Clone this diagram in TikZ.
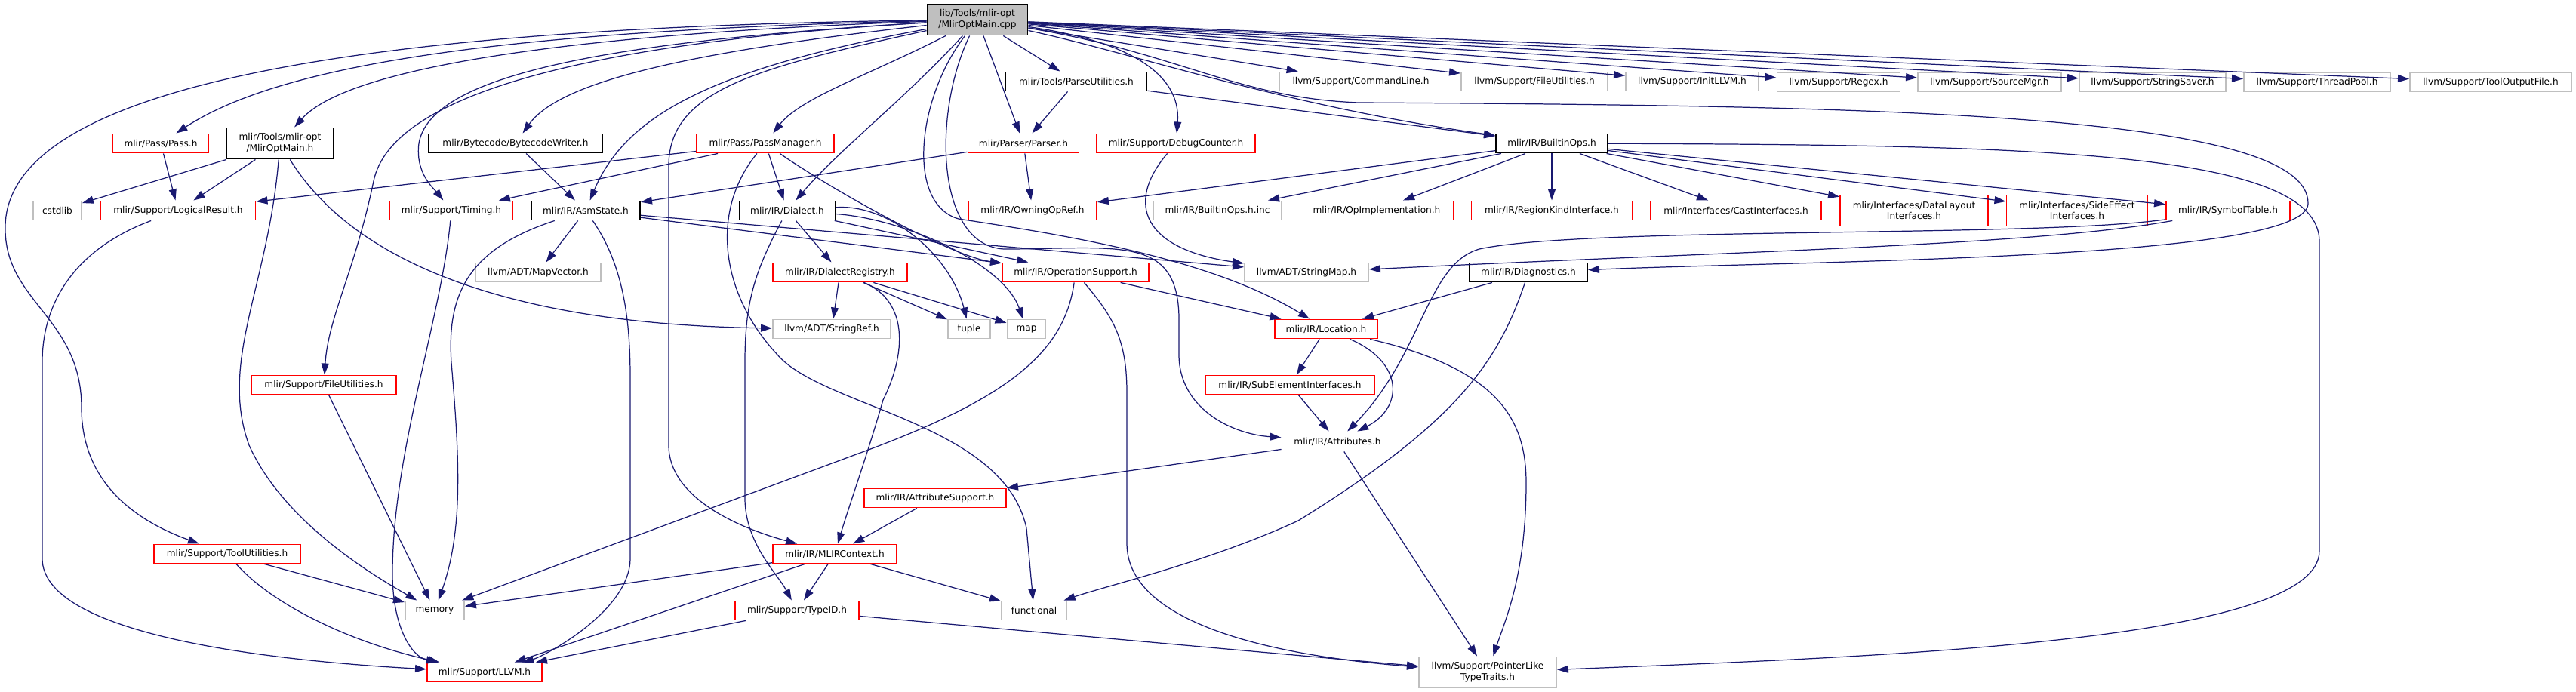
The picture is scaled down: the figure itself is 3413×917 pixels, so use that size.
\documentclass[tikz,border=0pt]{standalone}
\usepackage{fontspec}
\setmainfont{DejaVu Sans}
\usetikzlibrary{arrows.meta}
\definecolor{edgeblue}{RGB}{25,25,112}
\definecolor{extgray}{RGB}{191,191,191}

\begin{document}
\begin{tikzpicture}[x=0.1mm, y=-0.1mm,
    hdr/.style={draw, line width=0.55pt, rectangle, fill=white, inner xsep=0.4mm, inner ysep=0pt,
        minimum height=2.5mm, align=center, font=\fontsize{3.45pt}{4.2pt}\selectfont},
    hdr red/.style={hdr, draw=red},
    hdr ext/.style={hdr, draw=extgray},
    hdr doc/.style={hdr, draw=black},
    twoline/.style={minimum height=4.1mm},
    incl/.style={draw=edgeblue, line width=0.35pt, -{Triangle[length=1.5mm, width=1mm]}}]
    \useasboundingbox (0,0) rectangle (3413,917);

    % file itself and the llvm support row
    \node[hdr doc, fill=extgray, twoline, minimum width=13.3mm] (main-cpp) at (1295,26) {lib/Tools/mlir-opt\\/MlirOptMain.cpp};
    \node[hdr doc, minimum width=18.7mm] (parse-utils-h) at (1426,108) {mlir/Tools/ParseUtilities.h};
    \node[hdr ext, minimum width=21.5mm] (command-line-h) at (1803,108) {llvm/Support/CommandLine.h};
    \node[hdr ext, minimum width=19.4mm] (llvm-file-utils-h) at (2033,108) {llvm/Support/FileUtilities.h};
    \node[hdr ext, minimum width=17.6mm] (init-llvm-h) at (2242,108) {llvm/Support/InitLLVM.h};
    \node[hdr ext, minimum width=16.3mm] (regex-h) at (2436,109) {llvm/Support/Regex.h};
    \node[hdr ext, minimum width=19mm] (source-mgr-h) at (2636,109) {llvm/Support/SourceMgr.h};
    \node[hdr ext, minimum width=19.4mm] (string-saver-h) at (2852,109) {llvm/Support/StringSaver.h};
    \node[hdr ext, minimum width=19.4mm] (thread-pool-h) at (3070,109) {llvm/Support/ThreadPool.h};
    \node[hdr ext, minimum width=21.4mm] (tool-output-file-h) at (3300,109) {llvm/Support/ToolOutputFile.h};

    \node[hdr red, minimum width=12.7mm] (pass-h) at (213,190) {mlir/Pass/Pass.h};
    \node[hdr doc, twoline, minimum width=14.2mm] (opt-main-h) at (371,190) {mlir/Tools/mlir-opt\\/MlirOptMain.h};
    \node[hdr doc, minimum width=23mm] (bytecode-writer-h) at (683,190) {mlir/Bytecode/BytecodeWriter.h};
    \node[hdr red, minimum width=18.2mm] (pass-manager-h) at (1014,190) {mlir/Pass/PassManager.h};
    \node[hdr red, minimum width=14.7mm] (parser-h) at (1356,190) {mlir/Parser/Parser.h};
    \node[hdr red, minimum width=21mm] (debug-counter-h) at (1558,190) {mlir/Support/DebugCounter.h};
    \node[hdr doc, minimum width=14.8mm] (builtin-ops-h) at (2056,190) {mlir/IR/BuiltinOps.h};

    \node[hdr ext, minimum width=6.4mm] (cstdlib) at (76,279) {cstdlib};
    \node[hdr red, minimum width=20.5mm] (logical-result-h) at (236,279) {mlir/Support/LogicalResult.h};
    \node[hdr red, minimum width=16.3mm] (timing-h) at (598,279) {mlir/Support/Timing.h};
    \node[hdr doc, minimum width=14.4mm] (asm-state-h) at (776,279) {mlir/IR/AsmState.h};
    \node[hdr doc, minimum width=12.7mm] (dialect-h) at (1043,279) {mlir/IR/Dialect.h};
    \node[hdr red, minimum width=17mm] (owning-op-ref-h) at (1368,279) {mlir/IR/OwningOpRef.h};
    \node[hdr ext, minimum width=17mm] (builtin-ops-inc) at (1613,279) {mlir/IR/BuiltinOps.h.inc};
    \node[hdr red, minimum width=20.3mm] (op-impl-h) at (1824,279) {mlir/IR/OpImplementation.h};
    \node[hdr red, minimum width=21.3mm] (region-kind-h) at (2056,279) {mlir/IR/RegionKindInterface.h};
    \node[hdr red, minimum width=22.6mm] (cast-ifaces-h) at (2300,279) {mlir/Interfaces/CastInterfaces.h};
    \node[hdr red, twoline, minimum width=19.6mm] (data-layout-h) at (2536,279) {mlir/Interfaces/DataLayout\\Interfaces.h};
    \node[hdr red, twoline, minimum width=18.7mm] (side-effect-h) at (2752,279) {mlir/Interfaces/SideEffect\\Interfaces.h};
    \node[hdr red, minimum width=16.4mm] (symbol-table-h) at (2952,279) {mlir/IR/SymbolTable.h};

    \node[hdr ext, minimum width=16.6mm] (map-vector-h) at (713,361) {llvm/ADT/MapVector.h};
    \node[hdr red, minimum width=17.8mm] (dialect-registry-h) at (1113,361) {mlir/IR/DialectRegistry.h};
    \node[hdr red, minimum width=19.4mm] (op-support-h) at (1425,361) {mlir/IR/OperationSupport.h};
    \node[hdr ext, minimum width=16.4mm] (string-map-h) at (1731,361) {llvm/ADT/StringMap.h};
    \node[hdr doc, minimum width=15.6mm] (diagnostics-h) at (2025,361) {mlir/IR/Diagnostics.h};

    \node[hdr ext, minimum width=15.6mm] (string-ref-h) at (1102,436) {llvm/ADT/StringRef.h};
    \node[hdr ext, minimum width=5.6mm] (tuple) at (1284,436) {tuple};
    \node[hdr ext, minimum width=5.1mm] (map) at (1360,436) {map};
    \node[hdr red, minimum width=13.6mm] (location-h) at (1757,436) {mlir/IR/Location.h};

    \node[hdr red, minimum width=19.2mm] (file-utils-h) at (429,510) {mlir/Support/FileUtilities.h};
    \node[hdr red, minimum width=22.4mm] (sub-element-h) at (1709,510) {mlir/IR/SubElementInterfaces.h};
    \node[hdr doc, minimum width=14.7mm] (attributes-h) at (1772,585) {mlir/IR/Attributes.h};
    \node[hdr red, minimum width=18.8mm] (attr-support-h) at (1239,660) {mlir/IR/AttributeSupport.h};
    \node[hdr red, minimum width=19.4mm] (tool-utils-h) at (301,734) {mlir/Support/ToolUtilities.h};
    \node[hdr red, minimum width=16.4mm] (mlir-context-h) at (1106,734) {mlir/IR/MLIRContext.h};
    \node[hdr ext, minimum width=7.8mm] (memory) at (576,809) {memory};
    \node[hdr red, minimum width=16.4mm] (type-id-h) at (1056,809) {mlir/Support/TypeID.h};
    \node[hdr ext, minimum width=8.6mm] (functional) at (1370,809) {functional};
    \node[hdr red, minimum width=15.2mm] (llvm-h) at (642,891) {mlir/Support/LLVM.h};
    \node[hdr ext, twoline, minimum width=18.2mm] (pointer-like-h) at (1971,891) {llvm/Support/PointerLike\\TypeTraits.h};

    \begin{scope}[incl]
        % includes of the file itself
        \draw (main-cpp) .. controls (600,35) and (10,90) .. (7,300) .. controls (5,400) and (108,420) .. (108,540) .. controls (108,640) and (180,690) .. (tool-utils-h);
        \draw (main-cpp) .. controls (700,40) and (380,80) .. (pass-h);
        \draw (main-cpp) .. controls (750,45) and (460,90) .. (opt-main-h);
        \draw (main-cpp) .. controls (800,55) and (520,120) .. (495,240) .. controls (470,360) and (435,420) .. (file-utils-h);
        \draw (main-cpp) .. controls (800,55) and (570,100) .. (555,190) .. controls (550,230) and (575,250) .. (timing-h);
        \draw (main-cpp) .. controls (900,70) and (740,110) .. (bytecode-writer-h);
        \draw (main-cpp) .. controls (950,90) and (830,150) .. (asm-state-h);
        \draw (main-cpp) .. controls (1000,90) and (886,120) .. (886,220) -- (886,590) .. controls (886,660) and (980,700) .. (mlir-context-h);
        \draw (main-cpp) .. controls (1150,100) and (1060,130) .. (pass-manager-h);
        \draw (main-cpp) .. controls (1200,130) and (1110,200) .. (dialect-h);
        \draw (main-cpp) -- (parser-h);
        \draw (main-cpp) -- (parse-utils-h);
        \draw (main-cpp) .. controls (1500,55) and (1565,100) .. (debug-counter-h);
        \draw (main-cpp) .. controls (1500,70) and (1700,140) .. (builtin-ops-h);
        \draw (main-cpp) .. controls (1215,130) and (1200,270) .. (1270,290) .. controls (1400,310) and (1600,340) .. (location-h);
        \draw (main-cpp) .. controls (1235,150) and (1240,325) .. (1330,330) .. controls (1480,330) and (1560,310) .. (1562,420) -- (1562,470) .. controls (1562,540) and (1630,575) .. (attributes-h);
        \draw (main-cpp) .. controls (1560,70) and (1640,130) .. (1800,136) .. controls (2500,140) and (3060,150) .. (3058,270) .. controls (3056,345) and (2400,345) .. (diagnostics-h);
        \draw (main-cpp) -- (command-line-h);
        \draw (main-cpp) -- (llvm-file-utils-h);
        \draw (main-cpp) -- (init-llvm-h);
        \draw (main-cpp) -- (regex-h);
        \draw (main-cpp) -- (source-mgr-h);
        \draw (main-cpp) -- (string-saver-h);
        \draw (main-cpp) -- (thread-pool-h);
        \draw (main-cpp) -- (tool-output-file-h);

        % headers below
        \draw (pass-h) -- (logical-result-h);
        \draw (opt-main-h) -- (cstdlib);
        \draw (opt-main-h) -- (logical-result-h);
        \draw (opt-main-h) .. controls (355,380) and (290,480) .. (330,590) .. controls (375,690) and (490,760) .. (memory);
        \draw (opt-main-h) .. controls (470,350) and (680,430) .. (string-ref-h);
        \draw (bytecode-writer-h) -- (asm-state-h);
        \draw (pass-manager-h) -- (logical-result-h);
        \draw (pass-manager-h) -- (timing-h);
        \draw (pass-manager-h) -- (dialect-h);
        \draw (pass-manager-h) .. controls (1100,250) and (1260,340) .. (op-support-h);
        \draw (pass-manager-h) .. controls (940,280) and (955,390) .. (1030,470) .. controls (1090,540) and (1330,560) .. (1360,700) -- (functional);
        \draw (parse-utils-h) -- (parser-h);
        \draw (parse-utils-h) -- (builtin-ops-h);
        \draw (parser-h) -- (asm-state-h);
        \draw (parser-h) -- (owning-op-ref-h);
        \draw (debug-counter-h) .. controls (1490,270) and (1515,330) .. (string-map-h);
        \draw (builtin-ops-h) -- (owning-op-ref-h);
        \draw (builtin-ops-h) -- (builtin-ops-inc);
        \draw (builtin-ops-h) -- (op-impl-h);
        \draw (builtin-ops-h) -- (region-kind-h);
        \draw (builtin-ops-h) -- (cast-ifaces-h);
        \draw (builtin-ops-h) -- (data-layout-h);
        \draw (builtin-ops-h) -- (side-effect-h);
        \draw (builtin-ops-h) -- (symbol-table-h);
        \draw (builtin-ops-h) .. controls (2700,192) and (3073,200) .. (3073,320) -- (3073,730) .. controls (3073,850) and (2500,870) .. (pointer-like-h);
        \draw (symbol-table-h) .. controls (2700,315) and (2100,300) .. (1960,330) .. controls (1890,350) and (1885,470) .. (attributes-h);
        \draw (symbol-table-h) .. controls (2700,325) and (2300,333) .. (string-map-h);
        \draw (logical-result-h) .. controls (100,330) and (56,400) .. (56,480) -- (56,740) .. controls (56,840) and (350,875) .. (llvm-h);
        \draw (timing-h) .. controls (585,420) and (520,600) .. (520,760) .. controls (520,830) and (545,870) .. (llvm-h);
        \draw (asm-state-h) -- (map-vector-h);
        \draw (asm-state-h) -- (op-support-h);
        \draw (asm-state-h) -- (string-map-h);
        \draw (asm-state-h) .. controls (620,330) and (592,390) .. (598,480) .. controls (608,600) and (615,700) .. (memory);
        \draw (asm-state-h) .. controls (825,350) and (835,420) .. (835,500) -- (835,740) .. controls (835,810) and (720,870) .. (llvm-h);
        \draw (dialect-h) -- (dialect-registry-h);
        \draw (dialect-h) -- (op-support-h);
        \draw (dialect-h) .. controls (1000,360) and (987,400) .. (987,480) -- (987,660) .. controls (987,720) and (1030,760) .. (type-id-h);
        \draw (dialect-h) .. controls (1180,270) and (1260,340) .. (tuple);
        \draw (dialect-h) .. controls (1200,290) and (1330,350) .. (map);
        \draw (dialect-registry-h) -- (string-ref-h);
        \draw (dialect-registry-h) -- (tuple);
        \draw (dialect-registry-h) -- (map);
        \draw (dialect-registry-h) .. controls (1205,400) and (1200,470) .. (1170,530) .. controls (1150,600) and (1125,670) .. (mlir-context-h);
        \draw (op-support-h) -- (location-h);
        \draw (op-support-h) .. controls (1410,470) and (1330,530) .. (1140,600) -- (memory);
        \draw (op-support-h) .. controls (1475,420) and (1493,450) .. (1493,520) -- (1493,720) .. controls (1493,830) and (1700,870) .. (pointer-like-h);
        \draw (diagnostics-h) -- (location-h);
        \draw (diagnostics-h) .. controls (1985,480) and (1930,560) .. (1720,690) .. controls (1600,745) and (1470,775) .. (functional);
        \draw (location-h) -- (sub-element-h);
        \draw (location-h) .. controls (1860,480) and (1860,540) .. (attributes-h);
        \draw (location-h) .. controls (1990,490) and (2022,560) .. (2022,640) .. controls (2022,760) and (1995,820) .. (pointer-like-h);
        \draw (sub-element-h) -- (attributes-h);
        \draw (attributes-h) -- (attr-support-h);
        \draw (attributes-h) -- (pointer-like-h);
        \draw (attr-support-h) -- (mlir-context-h);
        \draw (file-utils-h) -- (memory);
        \draw (tool-utils-h) -- (memory);
        \draw (tool-utils-h) .. controls (360,800) and (460,850) .. (llvm-h);
        \draw (mlir-context-h) -- (memory);
        \draw (mlir-context-h) -- (type-id-h);
        \draw (mlir-context-h) -- (llvm-h);
        \draw (mlir-context-h) -- (functional);
        \draw (type-id-h) -- (llvm-h);
        \draw (type-id-h) -- (pointer-like-h);
    \end{scope}
\end{tikzpicture}
\end{document}
